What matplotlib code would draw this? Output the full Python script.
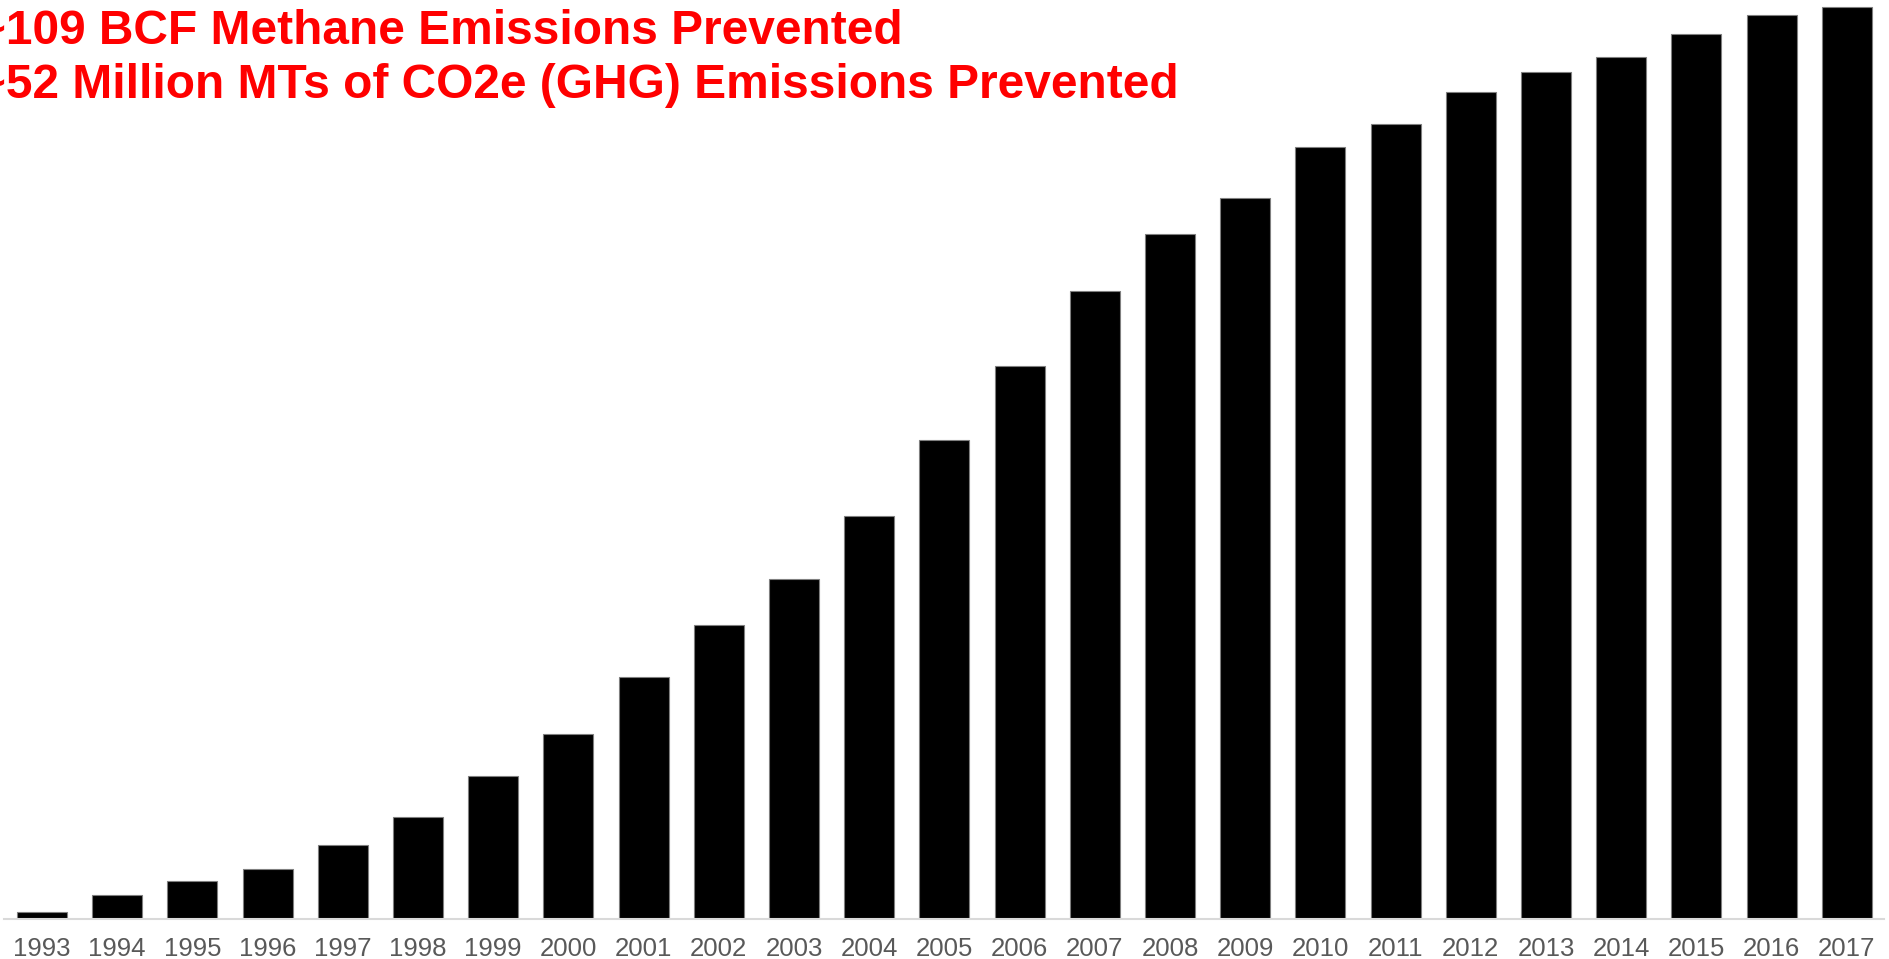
import matplotlib
matplotlib.use("Agg")
import matplotlib.pyplot as plt

# cumulative methane emissions prevented (BCF) per year
years = [str(y) for y in range(1993, 2018)]
bcf_prevented = [0.84, 2.9, 4.6, 6.0, 8.8, 12.2, 17.1, 22.1, 28.9, 35.1,
                 40.6, 48.2, 57.3, 66.1, 75.0, 81.9, 86.2, 92.3, 95.0, 98.9,
                 101.2, 103.0, 105.8, 108.1, 109.0]

headline_1 = "~109 BCF Methane Emissions Prevented"
headline_2 = "~52 Million MTs of CO2e (GHG) Emissions Prevented"

plt.rcParams["font.family"] = ["Liberation Sans", "DejaVu Sans"]

W, H = 1889, 959
fig = plt.figure(figsize=(W / 100, H / 100), dpi=100)
ax = fig.add_axes([4.4 / W, 40 / H, 1880 / W, 919 / H])

x = range(len(years))
ax.bar(x, bcf_prevented, width=0.665, color="black",
       edgecolor="#7f7f7f", linewidth=0.8)

ax.set_xlim(-0.5, len(years) - 0.5)
ax.set_ylim(0, 109.0 * 919 / 912)
ax.set_xticks(list(x))
ax.set_xticklabels(years, fontsize=18.5, color="#595959")
ax.tick_params(axis="x", length=0, pad=13)
ax.set_yticks([])

for side in ["left", "right", "top"]:
    ax.spines[side].set_visible(False)
ax.spines["bottom"].set_color("#d9d9d9")
ax.spines["bottom"].set_linewidth(1.5)

fig.text(-22 / W, 1 - 44 / H, headline_1, color="red", fontsize=34.5,
         fontweight="bold", ha="left", va="baseline")
fig.text(-22 / W, 1 - 98 / H, headline_2, color="red", fontsize=34.5,
         fontweight="bold", ha="left", va="baseline")

fig.savefig("out.png", dpi=100)
